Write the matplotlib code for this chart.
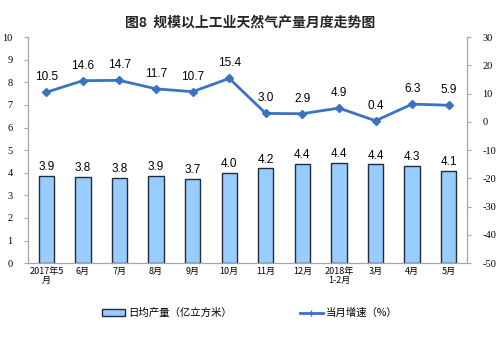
import numpy as np
import matplotlib.pyplot as plt
from matplotlib.patches import Patch
from matplotlib.lines import Line2D

plt.rcParams['font.family'] = ['Noto Sans CJK SC', 'DejaVu Sans']
plt.rcParams['axes.unicode_minus'] = False

months = ["2017年5\n月", "6月", "7月", "8月", "9月", "10月", "11月", "12月",
          "2018年\n1-2月", "3月", "4月", "5月"]
daily_output = [3.86, 3.83, 3.79, 3.86, 3.72, 4.00, 4.20, 4.38, 4.43, 4.37, 4.30, 4.09]
growth = [10.5, 14.6, 14.7, 11.7, 10.7, 15.4, 3.0, 2.9, 4.9, 0.4, 6.3, 5.9]

bar_c = "#99CCFF"
line_c = "#3A73C0"
grey = "#A6A6A6"
serif = "Liberation Serif"
sans = "Liberation Sans"

fig = plt.figure(figsize=(5, 3.44), dpi=100)
ax = fig.add_axes([0.056, 0.235, 0.878, 0.657])
x = np.arange(len(months))

ax.bar(x, daily_output, width=0.42, color=bar_c, edgecolor="#1F2D3D", linewidth=1.0, zorder=2)
for xi, v in zip(x, daily_output):
    ax.text(xi, v + 0.12, f"{v:.1f}", ha="center", va="bottom", fontsize=8.5, family=sans)

ax.set_xlim(-0.5, len(months) - 0.5)
ax.set_ylim(0, 10)
ax.set_yticks(range(0, 11))
ax.set_xticks(x)
ax.set_xticklabels(months, fontsize=6.5, linespacing=1.0)
for lab in ax.get_yticklabels():
    lab.set_fontfamily(serif)
    lab.set_fontsize(7.5)
ax.tick_params(axis="y", length=3, color=grey, pad=8)
ax.tick_params(axis="x", length=0, pad=3)

ax2 = ax.twinx()
ax2.plot(x, growth, color=line_c, linewidth=2, marker="D", markersize=4, zorder=3)
for xi, v in zip(x, growth):
    ax2.text(xi, v + 3.2, f"{v:.1f}", ha="center", va="bottom", fontsize=8.5, family=sans)
ax2.set_ylim(-50, 30)
ax2.set_yticks(range(-50, 31, 10))
for lab in ax2.get_yticklabels():
    lab.set_fontfamily(serif)
    lab.set_fontsize(7.5)
ax2.tick_params(axis="y", length=3, color=grey, pad=8)

for a in (ax, ax2):
    a.spines["top"].set_visible(False)
    for s in ("left", "right", "bottom"):
        a.spines[s].set_color(grey)
        a.spines[s].set_linewidth(0.8)

fig.text(0.5, 0.935, "图8  规模以上工业天然气产量月度走势图", ha="center", va="center",
         fontsize=10, fontweight="bold", color="#262626")

handles = [Patch(facecolor=bar_c, edgecolor="#1F2D3D", linewidth=1.0),
           Line2D([], [], color=line_c, linewidth=2, marker="|", markersize=4)]
fig.legend(handles, ["日均产量（亿立方米）", "当月增速（%）"], loc="center",
           bbox_to_anchor=(0.5, 0.09), ncol=2, frameon=False, fontsize=7.5,
           handlelength=2.2, handleheight=0.6, handletextpad=0.3, columnspacing=6.5)

fig.savefig("out.png", dpi=100)
